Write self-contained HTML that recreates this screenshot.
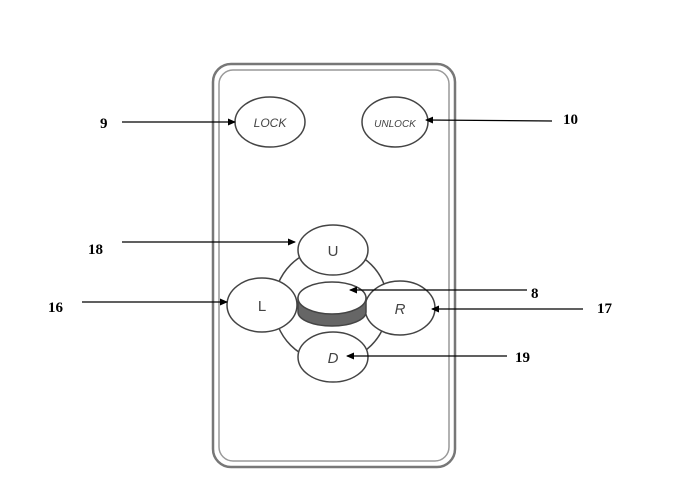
<!DOCTYPE html><html><head><style>body{margin:0;background:#fff}</style></head><body>
<svg width="676" height="485" xmlns="http://www.w3.org/2000/svg">
<defs><marker id="a" markerWidth="8" markerHeight="8" refX="7" refY="4" orient="auto" markerUnits="userSpaceOnUse"><path d="M0,0.5 L8,4 L0,7.5z" fill="#000"/></marker></defs>
<rect x="213" y="64" width="242" height="403" rx="18" fill="#fff" stroke="#777" stroke-width="2.5"/>
<rect x="219" y="70" width="230" height="391" rx="14" fill="none" stroke="#999" stroke-width="1.5"/>
<g fill="#fff" stroke="#444" stroke-width="1.5">
<ellipse cx="270" cy="122" rx="35" ry="25"/>
<ellipse cx="395" cy="122" rx="33" ry="25"/>
<circle cx="331" cy="305" r="57"/>
<ellipse cx="333" cy="250" rx="35" ry="25"/>
<ellipse cx="262" cy="305" rx="35" ry="27"/>
<ellipse cx="400" cy="308" rx="35" ry="27"/>
<ellipse cx="333" cy="357" rx="35" ry="25"/>
<path d="M298,298 L298,312 A34,14 0 0 0 366,312 L366,298z" fill="#666"/>
<ellipse cx="332" cy="298" rx="34" ry="16"/>
</g>
<g font-family="Liberation Sans,sans-serif" fill="#444" text-anchor="middle" font-size="12">
<text x="270" y="127" font-style="italic">LOCK</text>
<text x="395" y="127" font-size="10" font-style="italic">UNLOCK</text>
<text x="333" y="256" font-size="15">U</text>
<text x="262" y="311" font-size="15">L</text>
<text x="400" y="314" font-size="15" font-style="italic">R</text>
<text x="333" y="363" font-size="15" font-style="italic">D</text>
</g>
<g stroke="#000" stroke-width="1.2" marker-end="url(#a)">
<line x1="122" y1="122" x2="235" y2="122"/>
<line x1="552" y1="121" x2="426" y2="120"/>
<line x1="122" y1="242" x2="295" y2="242"/>
<line x1="82" y1="302" x2="227" y2="302"/>
<line x1="527" y1="290" x2="350" y2="290"/>
<line x1="583" y1="309" x2="432" y2="309"/>
<line x1="507" y1="356" x2="347" y2="356"/>
</g>
<g font-family="Liberation Serif,serif" font-weight="bold" font-size="15">
<text x="100" y="128">9</text>
<text x="563" y="124">10</text>
<text x="88" y="254">18</text>
<text x="48" y="312">16</text>
<text x="531" y="298">8</text>
<text x="597" y="313">17</text>
<text x="515" y="362">19</text>
</g>
</svg></body></html>
